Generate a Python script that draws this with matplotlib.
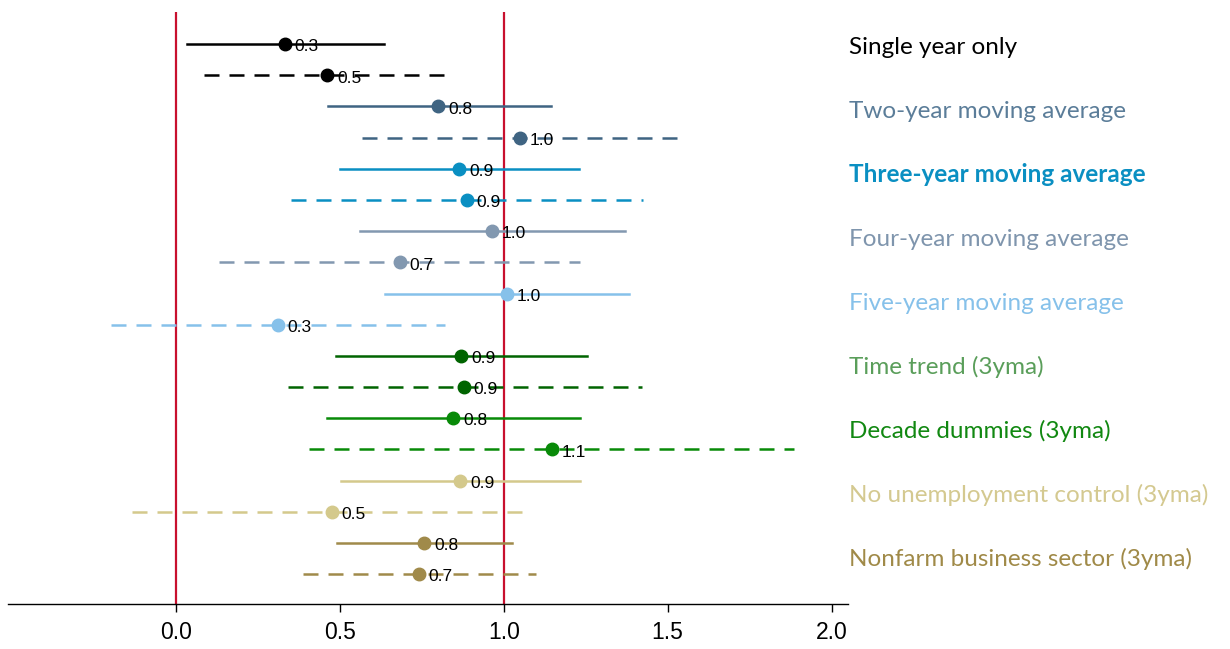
import matplotlib
matplotlib.use("Agg")
import matplotlib.pyplot as plt

# ---- data ----
groups = ["Single year only", "Two-year moving average", "Three-year moving average",
          "Four-year moving average", "Five-year moving average", "Time trend (3yma)",
          "Decade dummies (3yma)", "No unemployment control (3yma)",
          "Nonfarm business sector (3yma)"]
# two estimates per group: solid then dashed
est_solid = [0.333, 0.800, 0.865, 0.964, 1.009, 0.871, 0.846, 0.868, 0.758]
lo_solid  = [0.033, 0.463, 0.502, 0.561, 0.637, 0.488, 0.461, 0.504, 0.491]
hi_solid  = [0.636, 1.143, 1.230, 1.369, 1.383, 1.253, 1.232, 1.232, 1.026]
est_dash  = [0.462, 1.049, 0.888, 0.683, 0.311, 0.879, 1.146, 0.475, 0.742]
lo_dash   = [0.085, 0.567, 0.352, 0.133, -0.198, 0.341, 0.406, -0.135, 0.387]
hi_dash   = [0.839, 1.532, 1.425, 1.234, 0.822, 1.422, 1.884, 1.086, 1.098]

line_colors = ["#000000", "#3f6482", "#0a8fc2", "#8298b0", "#86c1ea",
               "#006400", "#088a08", "#d4c98c", "#a08a4a"]
text_colors = ["#000000", "#5b7d99", "#0a8fc2", "#7f95ad", "#86c1ea",
               "#5a9e5a", "#118811", "#d4c990", "#a08a48"]
xticks = [0.0, 0.5, 1.0, 1.5, 2.0]

# ---- figure ----
fig = plt.figure(figsize=(12.3, 6.49), dpi=100)
ax = fig.add_axes([8/1230, 1-604/649, 840/1230, 592/649])

for i, g in enumerate(groups):
    c = line_colors[i]
    for j, (e, lo, hi) in enumerate([(est_solid[i], lo_solid[i], hi_solid[i]),
                                    (est_dash[i], lo_dash[i], hi_dash[i])]):
        y = 2 * i + j
        ls = "-" if j == 0 else (0, (6.0, 4.0))
        ax.plot([lo, hi], [y, y], color=c, lw=1.8, linestyle=ls, zorder=2)
        ax.plot([e], [y], marker="o", ms=9, color=c, mec=c, zorder=3)
        ax.annotate(f"{e:.1f}", (e, y), xytext=(7, -2), textcoords="offset points",
                    va="center", ha="left", fontsize=12.5, family="Liberation Sans",
                    color="black", zorder=4)

for xv in [0.0, 1.0]:
    ax.axvline(xv, color="#c8102e", lw=1.6, zorder=1)

ax.set_xlim(-0.512, 2.05)
ax.set_ylim(17.96, -1.03)
ax.set_yticks([])
for s in ["top", "right", "left"]:
    ax.spines[s].set_visible(False)
ax.spines["bottom"].set_linewidth(1.0)
ax.set_xticks(xticks)
ax.set_xticklabels([f"{v:.1f}" for v in xticks], family="Liberation Sans", fontsize=16.5)
ax.tick_params(axis="x", length=6, width=1, pad=6)

# group labels on the right
for i, g in enumerate(groups):
    ypix = 47 + 64 * i
    fig.text(849/1230, 1 - ypix/649, g, color=text_colors[i], fontsize=17.5,
             family="Lato", va="center", ha="left",
             fontweight="bold" if i == 2 else "normal")

fig.savefig("out.png", dpi=100)
